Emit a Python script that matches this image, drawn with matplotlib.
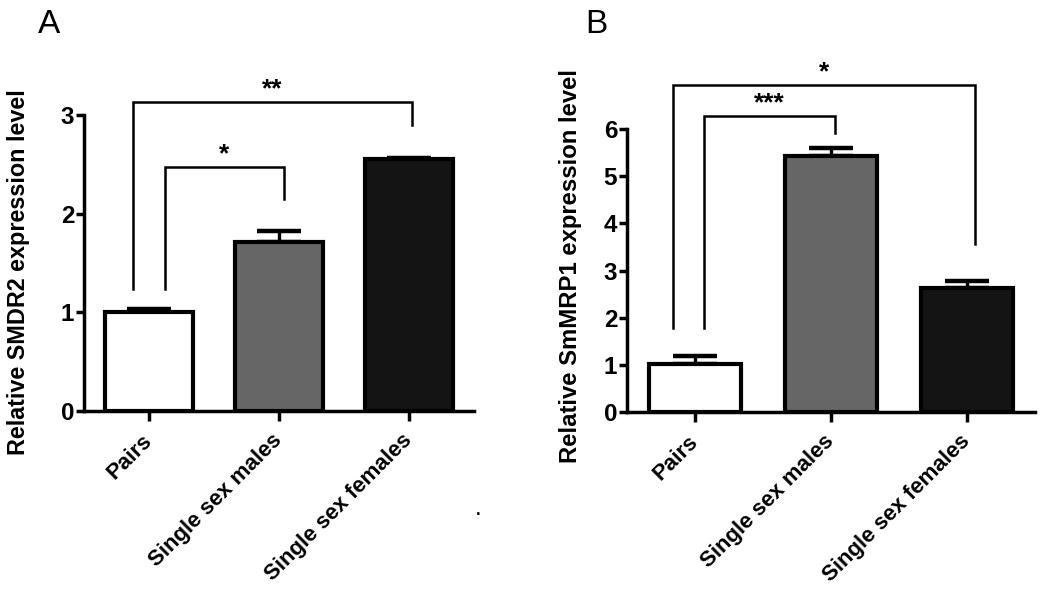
import matplotlib
matplotlib.use('Agg')
import matplotlib.pyplot as plt
import numpy as np

plt.rcParams['font.family'] = ['Liberation Sans', 'DejaVu Sans']

# data
groups = ['Pairs', 'Single sex males', 'Single sex females']
colors = ['#ffffff', '#666666', '#141414']

smdr2_mean = [1.00, 1.71, 2.55]
smdr2_err = [0.03, 0.11, 0.01]

smmrp1_mean = [1.02, 5.42, 2.63]
smmrp1_err = [0.17, 0.18, 0.15]

# significance brackets: (left bar, right bar, left offset, right offset, height, left drop, right drop, label)
smdr2_sig = [(0, 2, -0.12, 0.02, 3.13, 1.24, 2.90, '**'),
             (0, 1, 0.12, 0.04, 2.47, 1.24, 2.15, '*')]
smmrp1_sig = [(0, 2, -0.16, 0.06, 6.93, 1.78, 3.56, '*'),
              (0, 1, 0.07, 0.03, 6.27, 1.78, 5.91, '***')]


def draw_panel(ax, means, errs, ymax, ylabel, ylabel_size, sigs):
    x = np.arange(len(groups))
    ax.bar(x, means, width=0.68, color=colors, edgecolor='black', linewidth=3, zorder=2)
    ax.errorbar(x, means, yerr=[[0] * len(errs), errs], fmt='none', ecolor='black',
                elinewidth=2.4, capsize=16, capthick=3.2, zorder=1)
    ax.set_xlim(-0.5, 2.5)
    ax.set_ylim(0, ymax)
    ax.set_yticks(np.arange(0, ymax + 1))
    ax.set_xticks(x)
    ax.set_xticklabels(groups, rotation=45, ha='right', va='center', rotation_mode='anchor',
                       fontsize=16, fontweight='bold')
    for lab in ax.get_yticklabels():
        lab.set_fontweight('bold')
        lab.set_fontsize(17.5)
    ax.set_ylabel(ylabel, fontsize=ylabel_size, fontweight='bold')
    for side in ['top', 'right']:
        ax.spines[side].set_visible(False)
    for side in ['left', 'bottom']:
        ax.spines[side].set_linewidth(2.5)
    ax.tick_params(axis='y', width=2.5, length=6, pad=1)
    ax.tick_params(axis='x', width=2.5, length=7, pad=12)
    for a, b, da, db, h, ha_, hb, lab in sigs:
        xa, xb = a + da, b + db
        ax.plot([xa, xa, xb, xb], [ha_, h, h, hb], color='black', lw=1.8,
                clip_on=False, solid_joinstyle='miter')
        ax.annotate(lab, xy=((xa + xb) / 2, h), xytext=(0, 4), textcoords='offset points',
                    ha='center', va='baseline', fontsize=19, fontweight='bold',
                    annotation_clip=False)


fig = plt.figure(figsize=(10.5, 5.97), dpi=100)
axA = fig.add_axes([0.080, 0.3116, 0.3714, 0.4958])
axB = fig.add_axes([0.5971, 0.3099, 0.3886, 0.4740])

draw_panel(axA, smdr2_mean, smdr2_err, 3, 'Relative SMDR2 expression level', 16.8, smdr2_sig)
draw_panel(axB, smmrp1_mean, smmrp1_err, 6, 'Relative SmMRP1 expression level', 17.2, smmrp1_sig)

axA.yaxis.set_label_coords(-0.139, 0.47)
axB.yaxis.set_label_coords(-0.110, 0.516)

fig.text(0.036, 0.945, 'A', fontsize=24)
fig.text(0.557, 0.945, 'B', fontsize=24)
fig.text(0.453, 0.138, '.', fontsize=12, fontweight='bold')

fig.savefig('out.png', dpi=100)
